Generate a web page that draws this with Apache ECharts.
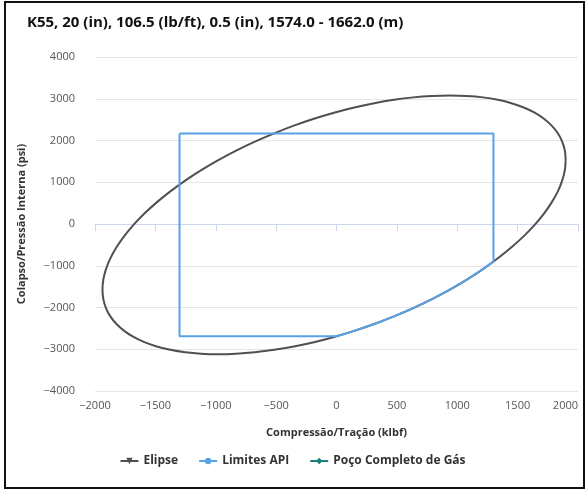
<!DOCTYPE html>
<html>
<head>
<meta charset="utf-8">
<script src="https://cdn.jsdelivr.net/npm/echarts@6/dist/echarts.min.js"></script>
<style>
  html, body { margin: 0; padding: 0; background: #fff; }
  #frame {
    position: absolute; left: 4px; top: 1px; width: 577px; height: 484px;
    border: 2px solid #111;
  }
  #chart { position: absolute; left: 0; top: 0; width: 585px; height: 490px; }
</style>
</head>
<body>
<div id="frame"></div>
<div id="chart"></div>
<script>
// 坐标轴刻度
const xTicks = [-2000, -1500, -1000, -500, 0, 500, 1000, 1500, 2000];
const yTicks = [-4000, -3000, -2000, -1000, 0, 1000, 2000, 3000, 4000];

// 椭圆 (Elipse) 读图估计的点: [klbf, psi]
const elipse = [
  [1898, 1530], [1891, 1758], [1869, 1973], [1833, 2172], [1782, 2355],
  [1718, 2520], [1641, 2665], [1551, 2790], [1449, 2893], [1336, 2974],
  [1213, 3033], [1080, 3068], [939, 3080], [791, 3068], [636, 3033],
  [476, 2974], [313, 2893], [147, 2790], [-20, 2665], [-187, 2520],
  [-353, 2355], [-516, 2172], [-676, 1973], [-831, 1758], [-979, 1530],
  [-1120, 1290], [-1253, 1040], [-1376, 782], [-1489, 518], [-1591, 250],
  [-1681, -20], [-1758, -290], [-1822, -558], [-1873, -822], [-1909, -1080],
  [-1931, -1330], [-1938, -1570], [-1931, -1798], [-1909, -2013], [-1873, -2212],
  [-1822, -2395], [-1758, -2559], [-1681, -2705], [-1591, -2830], [-1489, -2933],
  [-1376, -3014], [-1253, -3073], [-1120, -3108], [-979, -3120], [-831, -3108],
  [-676, -3073], [-516, -3014], [-353, -2933], [-187, -2830], [-20, -2705],
  [147, -2559], [313, -2395], [476, -2212], [636, -2013], [791, -1798],
  [939, -1570], [1080, -1330], [1213, -1080], [1336, -822], [1449, -558],
  [1551, -290], [1641, -20], [1718, 250], [1782, 518], [1833, 782],
  [1869, 1040], [1891, 1290], [1898, 1530]
];

// Limites API
const limitesApi = [
  [-1300, 2170], [1300, 2170], [1300, -900], [1213, -1080], [1080, -1330],
  [939, -1570], [791, -1798], [636, -2013], [476, -2212], [313, -2395],
  [147, -2559], [0, -2690], [-1300, -2690], [-1300, 2170]
];

// Poço Completo de Gás (não visível)
const pocoGas = [];

const chart = echarts.init(document.getElementById("chart"));

// 负号用 "−"
const fmt = (v) => String(v).replace("-", "\u2212");
const labelFont = { color: "#555", fontSize: 11, fontFamily: "Open Sans" };
const nameFont = { color: "#333", fontSize: 11, fontWeight: "bold", fontFamily: "Open Sans" };

const options = {
  animation: false,
  title: {
    text: "K55, 20 (in), 106.5 (lb/ft), 0.5 (in), 1574.0 - 1662.0 (m)",
    left: 22,
    top: 10,
    textStyle: { color: "#111", fontSize: 15, fontWeight: "bold", fontFamily: "Open Sans" },
  },
  grid: { left: 95, right: 7, top: 57, bottom: 99 },
  legend: {
    bottom: 18,
    left: "center",
    itemWidth: 18,
    itemHeight: 8,
    itemGap: 20,
    textStyle: { color: "#333", fontSize: 12, fontWeight: "bold", fontFamily: "Open Sans" },
    data: ["Elipse", "Limites API", "Poço Completo de Gás"],
  },
  xAxis: {
    type: "value",
    min: xTicks[0],
    max: xTicks[xTicks.length - 1],
    interval: 500,
    name: "Compressão/Tração (klbf)",
    nameLocation: "middle",
    nameGap: 36,
    nameTextStyle: nameFont,
    axisLine: { show: true, lineStyle: { color: "#ccd6eb" } },
    axisTick: { show: true, length: 7, lineStyle: { color: "#ccd6eb" } },
    axisLabel: { ...labelFont, margin: 9, alignMaxLabel: "right", formatter: fmt },
    splitLine: { show: false },
  },
  yAxis: {
    type: "value",
    min: yTicks[0],
    max: yTicks[yTicks.length - 1],
    interval: 1000,
    name: "Colapso/Pressão Interna (psi)",
    nameLocation: "middle",
    nameGap: 68,
    nameTextStyle: nameFont,
    axisLine: { show: false },
    axisTick: { show: false },
    axisLabel: { ...labelFont, margin: 20, formatter: fmt },
    splitLine: { lineStyle: { color: "#e6e6e6" } },
  },
  series: [
    {
      name: "Elipse",
      type: "line",
      data: elipse,
      smooth: 0.3,
      showSymbol: false,
      symbol: "triangle",
      symbolRotate: 180,
      symbolSize: 8,
      lineStyle: { color: "#505050", width: 2 },
      itemStyle: { color: "#505050" },
      z: 2,
    },
    {
      name: "Limites API",
      type: "line",
      data: limitesApi,
      showSymbol: false,
      symbol: "circle",
      symbolSize: 8,
      lineStyle: { color: "#5aa2e6", width: 2 },
      itemStyle: { color: "#5aa2e6" },
      z: 3,
    },
    {
      name: "Poço Completo de Gás",
      type: "line",
      data: pocoGas,
      showSymbol: false,
      symbol: "diamond",
      symbolSize: 8,
      lineStyle: { color: "#1b7f7a", width: 2 },
      itemStyle: { color: "#1b7f7a" },
    },
  ],
};

chart.setOption(options);
</script>
</body>
</html>
